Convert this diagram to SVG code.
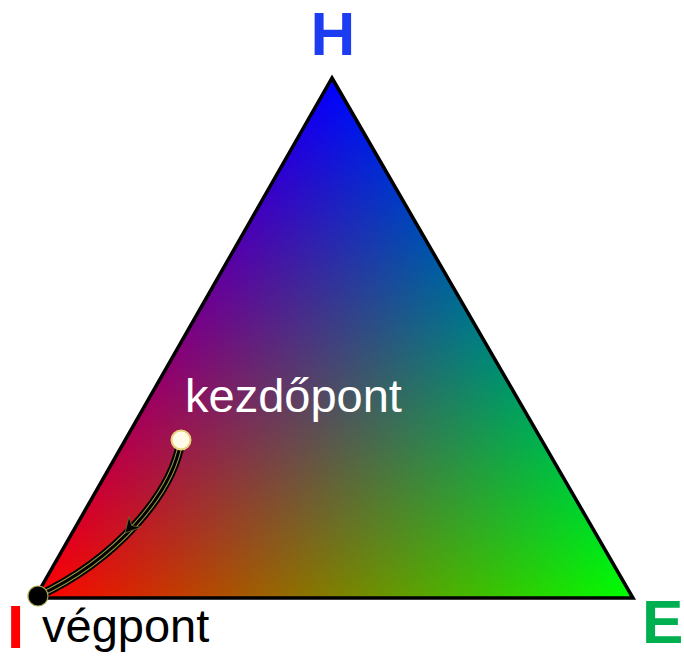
<svg xmlns="http://www.w3.org/2000/svg" width="684" height="656" viewBox="0 0 684 656">
<style>
  .lbl{font-family:"Liberation Sans",Arial,sans-serif;font-weight:bold}
  .txt{font-family:"Liberation Sans",Arial,sans-serif}
  .blend{mix-blend-mode:screen}
  .wire{fill:none}
</style>
<defs>
  <linearGradient id="gR" gradientUnits="userSpaceOnUse" x1="35" y1="598" x2="482.9" y2="338.7">
    <stop offset="0" stop-color="#ff0000"/><stop offset="1" stop-color="#000000"/>
  </linearGradient>
  <linearGradient id="gG" gradientUnits="userSpaceOnUse" x1="633" y1="598" x2="182.1" y2="340.5">
    <stop offset="0" stop-color="#00ff00"/><stop offset="1" stop-color="#000000"/>
  </linearGradient>
  <linearGradient id="gB" gradientUnits="userSpaceOnUse" x1="332" y1="78" x2="332" y2="598">
    <stop offset="0" stop-color="#0000ff"/><stop offset="1" stop-color="#000000"/>
  </linearGradient>
  <path id="tri" d="M332,78 L633,598 L35,598 Z"/>
  <path id="curve" d="M181,441 C172,495 115,560 38,596"/>
</defs>
<rect width="684" height="656" fill="#ffffff"/>
<g id="triangle">
  <g style="isolation:isolate">
    <use href="#tri" fill="#000000"/>
    <use href="#tri" fill="url(#gR)" class="blend"/>
    <use href="#tri" fill="url(#gG)" class="blend"/>
    <use href="#tri" fill="url(#gB)" class="blend"/>
  </g>
  <use href="#tri" fill="none" stroke="#000000" stroke-width="3.5" stroke-linejoin="miter"/>
</g>
<g id="label-H"><text class="lbl" x="333" y="55" font-size="62" fill="#1c3cf2" text-anchor="middle">H</text></g>
<g id="label-E"><text class="lbl" x="642" y="643" font-size="62" fill="#00b050">E</text></g>
<g id="label-I"><text class="lbl" x="7" y="648" font-size="62" fill="#ff0000">I</text></g>
<g id="connectors">
  <use href="#curve" class="wire" stroke="#000000" stroke-width="9" stroke-linecap="round"/>
  <use href="#curve" class="wire" stroke="#9a9a40" stroke-width="5"/>
  <use href="#curve" class="wire" stroke="#000000" stroke-width="3"/>
  <g transform="translate(125,533) rotate(132)">
    <path d="M0,0 L-15,-8 L-10,0 L-15,8 Z" fill="#000000" stroke="#6a6a30" stroke-width="0.8"/>
  </g>
</g>
<g id="start">
  <circle cx="181" cy="440" r="9.5" fill="#fffbe8" stroke="#e6d27a" stroke-width="2"/>
  <text class="txt" x="185" y="412" font-size="47" fill="#ffffff">kezdőpont</text>
</g>
<g id="end">
  <circle cx="38" cy="596" r="10" fill="#000000" stroke="#a8a850" stroke-width="1.2"/>
  <text class="txt" x="42" y="642" font-size="47" fill="#000000">végpont</text>
</g>
</svg>
